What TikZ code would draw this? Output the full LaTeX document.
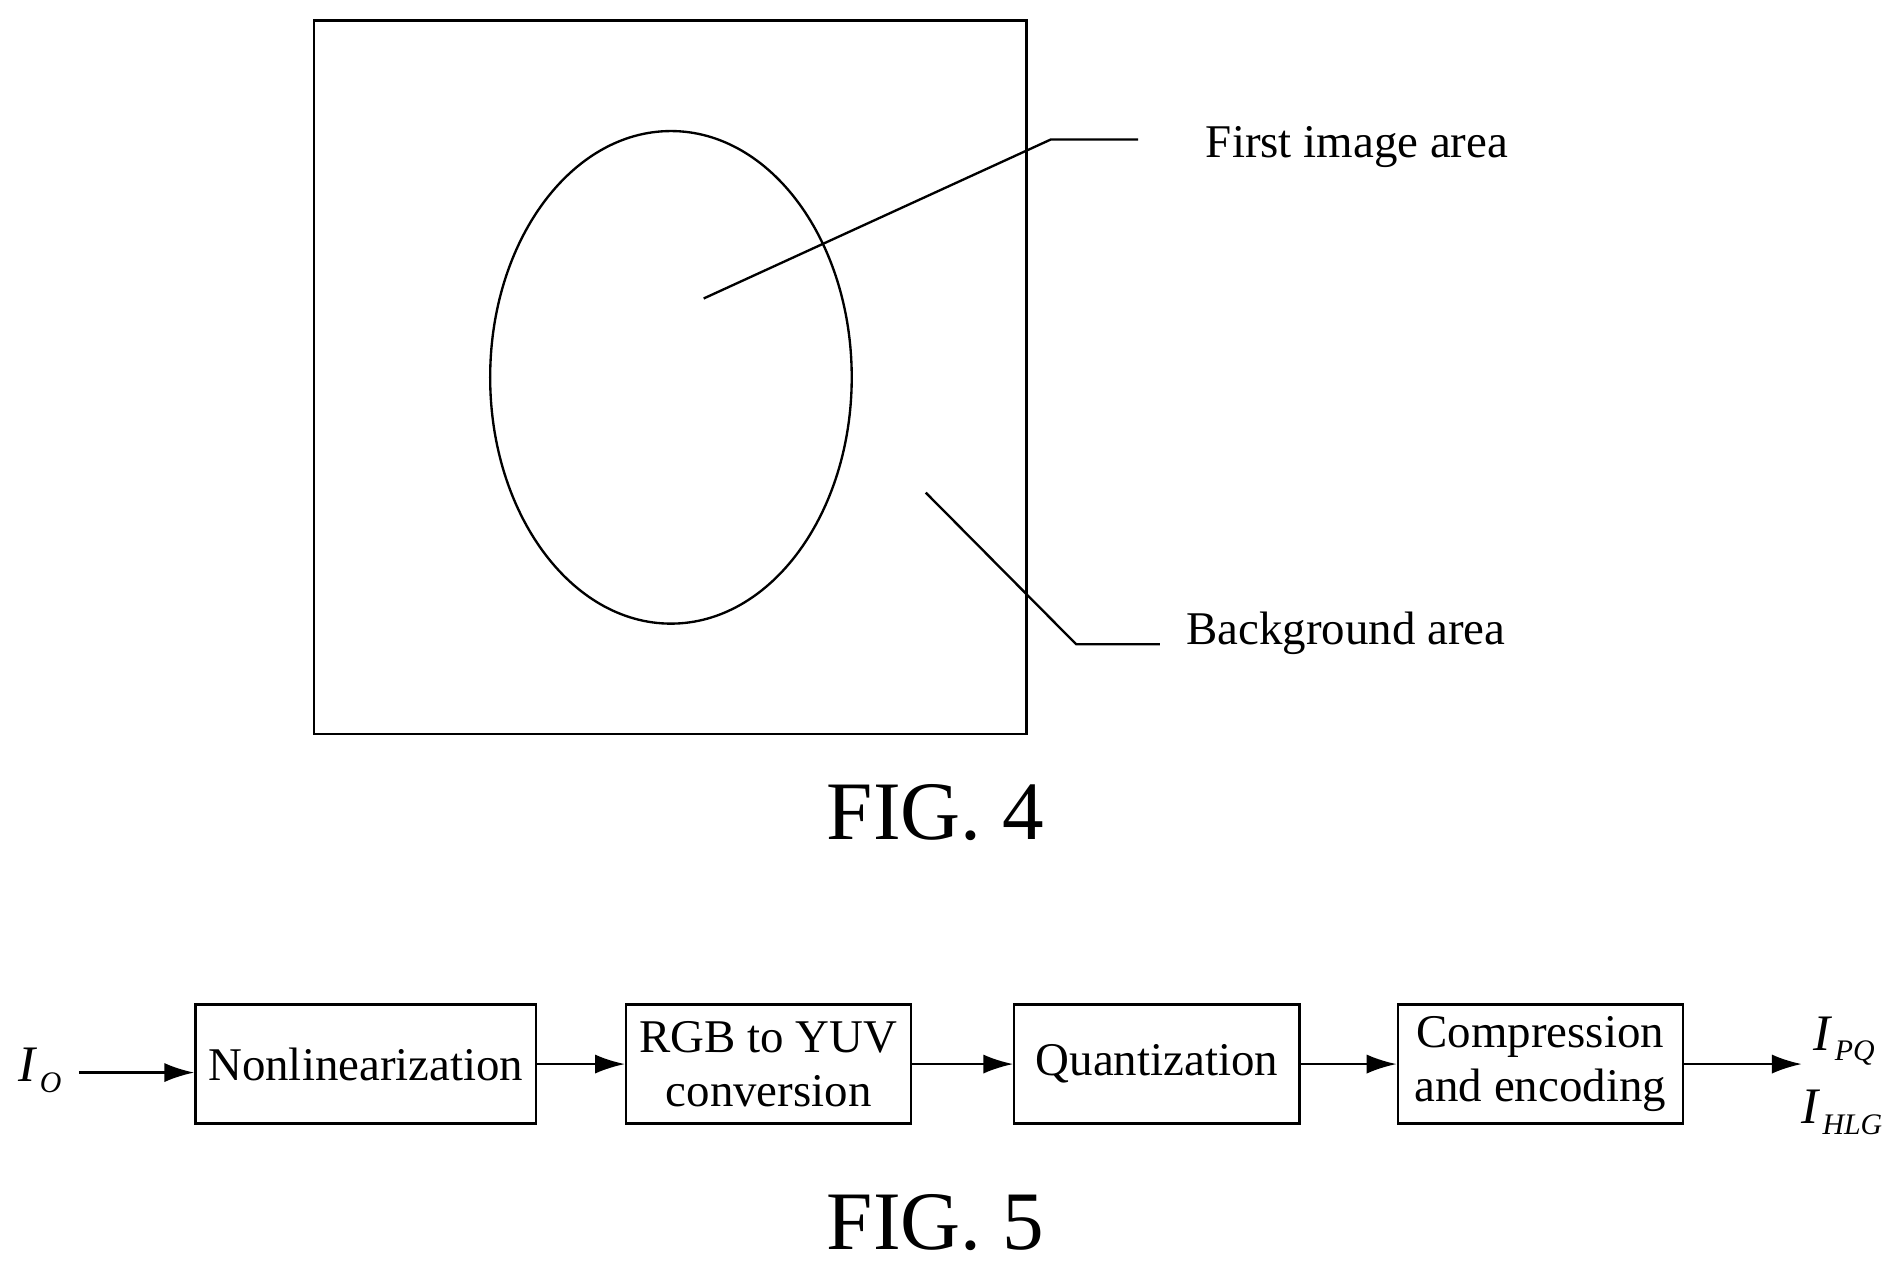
\documentclass[tikz,border=0pt]{standalone}
\usepackage{fontspec}
\setmainfont{Liberation Serif}
\usetikzlibrary{arrows.meta}
\newcommand{\sig}[2]{\textit{#1}\kern1pt\raisebox{-5pt}{\fontsize{14}{14}\selectfont\textit{#2}}}
\begin{document}
\begin{tikzpicture}[x=0.02cm,y=-0.02cm,
  line width=1.1pt,
  lbl/.style={font=\fontsize{22}{24}\selectfont,anchor=west,inner sep=0},
  fig/.style={font=\fontsize{39}{41}\selectfont},
  blk/.style={draw,minimum width=#1*0.02cm,minimum height=98*0.02cm,align=center,font=\fontsize{22}{25}\selectfont,inner sep=0},
  arr/.style={-{Latex[length=14pt,width=9pt]}}]
\useasboundingbox (0,0) rectangle (1566,1046);
\draw (259,17) rectangle (846,605);
\draw (553,311) ellipse [x radius=149*0.02cm, y radius=203*0.02cm];
\coordinate (p1) at (580,246); \coordinate (p2) at (866,115); \coordinate (p3) at (938,115);
\draw (p1) -- (p2) -- (p3);
\node[lbl] (t1) at (993,121) {First image area};
\coordinate (q1) at (763,406); \coordinate (q2) at (887,531); \coordinate (q3) at (956,531);
\draw (q1) -- (q2) -- (q3);
\node[lbl] (t2) at (977,522) {Background area};
\node[fig] (f4) at (771,670) {FIG. 4};

\node[blk=281] (b1) at (301.5,877) {Nonlinearization};
\node[blk=235] (b2) at (633.5,877) {RGB to YUV\\conversion};
\node[blk=235] (b3) at (953.5,877) {Quantization};
\node[blk=235] (b4) at (1269.5,877) {Compression\\and encoding};
\node[font=\fontsize{24}{24}\selectfont] (io) at (33,882) {\sig{I}{O}};
\coordinate (in) at (65,884);
\draw[arr] (in) -- (b1.west|-in);
\draw[arr] (b1) -- (b2);
\draw[arr] (b2) -- (b3);
\draw[arr] (b3) -- (b4);
\coordinate (out) at (1485,877);
\draw[arr] (b4) -- (out);
\node[font=\fontsize{24}{24}\selectfont] (o1) at (1520,858) {\sig{I}{PQ}};
\node[font=\fontsize{24}{24}\selectfont] (o2) at (1518,917) {\sig{I}{HLG}};
\node[fig] (f5) at (771,1008) {FIG. 5};
\end{tikzpicture}
\end{document}
